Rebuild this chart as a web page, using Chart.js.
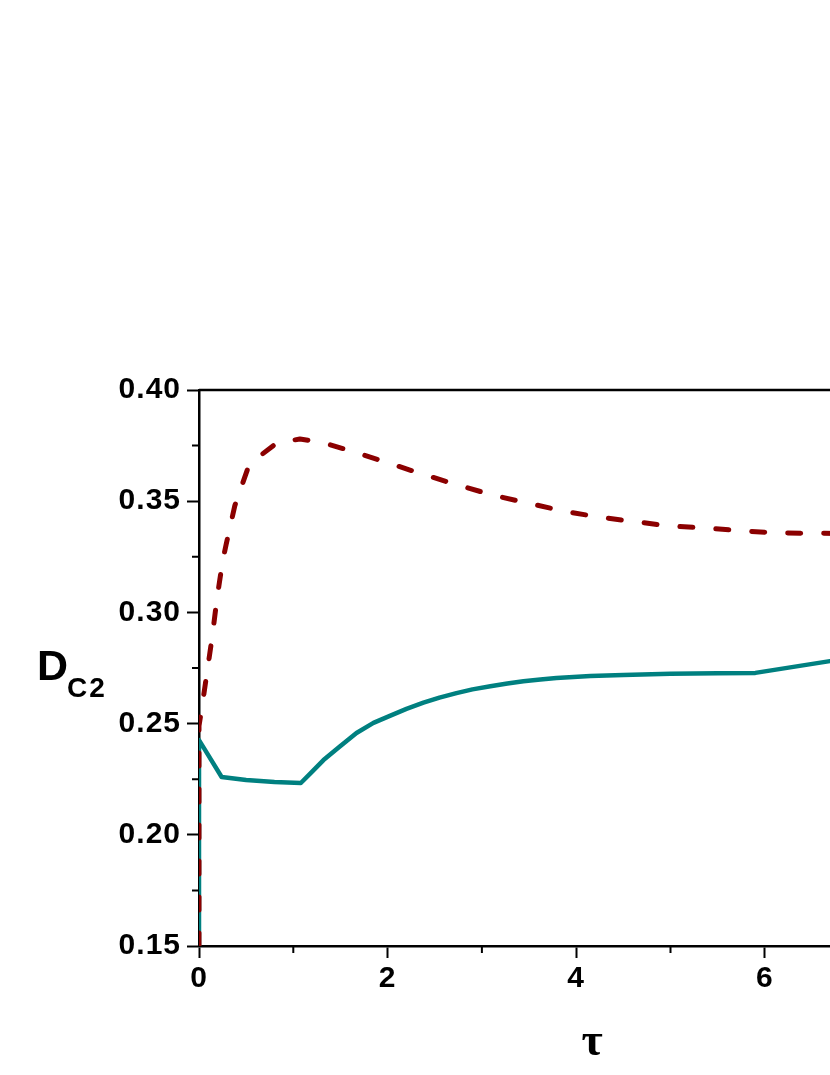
<!DOCTYPE html>
<html>
<head>
<meta charset="utf-8">
<script src="https://cdn.jsdelivr.net/npm/chart.js@4/dist/chart.umd.min.js"></script>
<style>
  html, body { margin: 0; padding: 0; background: #fff; overflow: hidden; width: 830px; height: 1075px; }
  #wrap { width: 1100px; height: 1075px; }
</style>
</head>
<body>
<div id="wrap"><canvas id="c" width="1100" height="1075"></canvas></div>
<script>
// ---- Data ----
const redTau = [0, 0, 0.03, 0.085, 0.14, 0.19, 0.25, 0.29, 0.38, 0.52, 0.65, 0.82, 1.07, 1.3, 1.58, 1.95, 2.33, 2.71, 3.11, 3.48, 3.86, 4.23, 4.57, 5.0, 5.39, 5.77, 6.15, 6.52, 7.0];
const redD   = [0.15, 0.249, 0.257, 0.273, 0.289, 0.306, 0.323, 0.331, 0.348, 0.365, 0.3705, 0.376, 0.378, 0.3765, 0.373, 0.368, 0.3627, 0.3577, 0.3528, 0.3492, 0.3456, 0.3429, 0.3411, 0.3388, 0.3379, 0.3366, 0.3357, 0.3356, 0.3354];

const tealTau = [0, 0, 0.24, 0.5, 0.8, 1.08, 1.2, 1.32, 1.49, 1.67, 1.85, 2.03, 2.2, 2.38, 2.55, 2.73, 2.9, 3.09, 3.27, 3.44, 3.62, 3.79, 4.15, 4.5, 5.0, 5.5, 5.9, 6.69, 7.0];
const tealD   = [0.15, 0.2426, 0.226, 0.2246, 0.2237, 0.2233, 0.2284, 0.2336, 0.2396, 0.2458, 0.2503, 0.2536, 0.2566, 0.2594, 0.2617, 0.2637, 0.2654, 0.2668, 0.2680, 0.2690, 0.2698, 0.2705, 0.2714, 0.2719, 0.2724, 0.2726, 0.2728, 0.2781, 0.2800];

const xMajorTicks = [0, 2, 4, 6, 8];
const xMinorTicks = [1, 3, 5, 7];
const yMajorTicks = [0.15, 0.20, 0.25, 0.30, 0.35, 0.40];
const yMinorTicks = [0.175, 0.225, 0.275, 0.325, 0.375];

const xTitle = 'τ';
const yTitleMain = 'D';
const yTitleSub = 'C2';

const toPts = (xs, ys) => xs.map((x, i) => ({ x: x, y: ys[i] }));

const LEFT = 199, TOP = 390, BOTTOM = 946, CW = 1100, CH = 1075;
const XMAX = 8;
const PXU = 94.3;
const RIGHT = LEFT + PXU * XMAX;
const SANS = '"Liberation Sans", Arial, sans-serif';

const spacing = {
  id: 'spacing',
  beforeDraw(chart) { chart.ctx.letterSpacing = '1px'; },
  beforeDatasetsDraw(chart) { chart.ctx.letterSpacing = '0px'; }
};

const decor = {
  id: 'decor',
  afterDraw(chart) {
    const ctx = chart.ctx;
    const xs = chart.scales.x, ys = chart.scales.y;
    const a = chart.chartArea;
    ctx.save();
    ctx.strokeStyle = '#000';
    ctx.lineWidth = 2.5;
    ctx.beginPath();
    ctx.moveTo(a.left, a.top); ctx.lineTo(a.right, a.top); ctx.lineTo(a.right, a.bottom);
    ctx.stroke();
    ctx.lineWidth = 2;
    ctx.beginPath();
    xMinorTicks.forEach(v => {
      const p = xs.getPixelForValue(v);
      ctx.moveTo(p, a.bottom); ctx.lineTo(p, a.bottom + 7);
    });
    yMinorTicks.forEach(v => {
      const p = ys.getPixelForValue(v);
      ctx.moveTo(a.left, p); ctx.lineTo(a.left - 7, p);
    });
    ctx.stroke();
    ctx.fillStyle = '#000';
    ctx.textBaseline = 'alphabetic';
    ctx.textAlign = 'left';
    ctx.letterSpacing = '1px';
    ctx.font = 'bold 43px ' + SANS;
    ctx.fillText(yTitleMain, 37, 680);
    ctx.letterSpacing = '2px';
    ctx.font = 'bold 28px ' + SANS;
    ctx.fillText(yTitleSub, 67, 697);
    ctx.letterSpacing = '0px';
    ctx.textAlign = 'center';
    ctx.font = 'bold 46px "Liberation Serif", "DejaVu Serif", serif';
    ctx.fillText(xTitle, 592, 1055);
    ctx.restore();
  }
};

new Chart(document.getElementById('c'), {
  type: 'line',
  data: {
    datasets: [
      {
        label: 'red',
        data: toPts(redTau, redD),
        borderColor: '#8b0000',
        borderWidth: 5,
        borderDash: [13, 23],
        borderCapStyle: 'round',
        borderJoinStyle: 'round',
        pointRadius: 0,
        fill: false,
        tension: 0
      },
      {
        label: 'teal',
        data: toPts(tealTau, tealD),
        borderColor: '#008080',
        borderWidth: 4.5,
        borderJoinStyle: 'round',
        pointRadius: 0,
        fill: false,
        tension: 0
      }
    ]
  },
  options: {
    responsive: false,
    animation: false,
    devicePixelRatio: 1,
    layout: { padding: { left: 0, top: TOP, right: CW - RIGHT, bottom: 0 } },
    plugins: { legend: { display: false }, tooltip: { enabled: false } },
    scales: {
      x: {
        type: 'linear',
        min: 0, max: XMAX,
        afterFit(s) { s.height = CH - BOTTOM; },
        afterBuildTicks(s) { s.ticks = xMajorTicks.map(v => ({ value: v })); },
        border: { display: true, color: '#000', width: 2.5 },
        grid: { display: true, drawOnChartArea: false, drawTicks: true, tickLength: 12, tickColor: '#000', tickWidth: 2, color: 'rgba(0,0,0,0)' },
        ticks: {
          color: '#000', padding: 3, maxRotation: 0,
          font: { family: SANS, size: 30, weight: 'bold' },
          callback: v => String(v)
        }
      },
      y: {
        type: 'linear',
        min: 0.15, max: 0.40,
        afterFit(s) { s.width = LEFT; },
        afterBuildTicks(s) { s.ticks = yMajorTicks.map(v => ({ value: v })); },
        border: { display: true, color: '#000', width: 2.5 },
        grid: { display: true, drawOnChartArea: false, drawTicks: true, tickLength: 12, tickColor: '#000', tickWidth: 2, color: 'rgba(0,0,0,0)' },
        ticks: {
          color: '#000', padding: 6,
          font: { family: SANS, size: 30, weight: 'bold' },
          callback: v => Number(v).toFixed(2)
        }
      }
    }
  },
  plugins: [spacing, decor]
});
</script>
</body>
</html>
